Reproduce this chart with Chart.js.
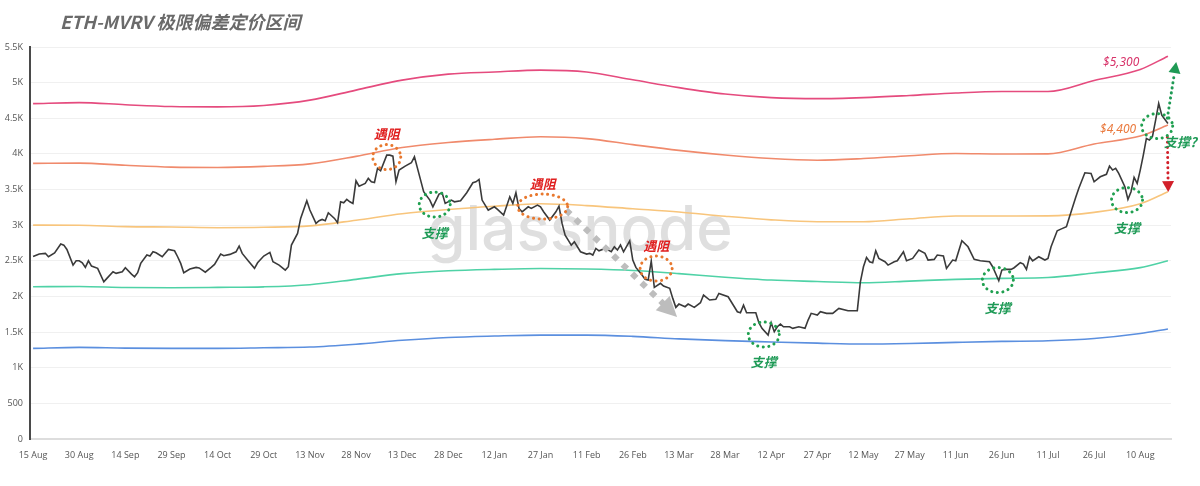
<!DOCTYPE html>
<html lang="zh">
<head>
  <meta charset="UTF-8">
  <title>ETH-MVRV 极限偏差定价区间</title>
  <script src="https://cdn.jsdelivr.net/npm/chart.js@4.4.1/dist/chart.umd.min.js"></script>
  <style>
    body { margin: 0; background: #fff; }
    canvas { display: block; }
  </style>
</head>
<body>
  <canvas id="mvrvChart" width="1200" height="486"></canvas>

  <script>
    // x axis = days since 15 Aug 2024, one tick every 15 days
    const xTickLabels = ['15 Aug', '30 Aug', '14 Sep', '29 Sep', '14 Oct', '29 Oct', '13 Nov', '28 Nov', '13 Dec',
      '28 Dec', '12 Jan', '27 Jan', '11 Feb', '26 Feb', '13 Mar', '28 Mar', '12 Apr', '27 Apr', '12 May',
      '27 May', '11 Jun', '26 Jun', '11 Jul', '26 Jul', '10 Aug'];

    // ETH price
    const priceDays = [
      0, 2, 4, 5, 7, 9, 10, 11, 13, 14,
      15, 16, 17, 18, 19, 21, 23, 24, 26, 27,
      29, 30, 32, 33, 34, 35, 37, 38, 39, 40,
      42, 44, 46, 47, 48, 49, 51, 53, 54, 56,
      58, 59, 61, 62, 64, 66, 67, 68, 70, 72,
      73, 75, 77, 78, 80, 82, 83, 84, 86, 87,
      89, 90, 92, 93, 94, 95, 96, 98, 99, 100,
      101, 102, 103, 104, 105, 106, 108, 109, 110, 111,
      112, 113, 115, 116, 117, 118, 119, 121, 123, 124,
      125, 127, 129, 130, 132, 133, 134, 136, 137, 139,
      141, 143, 144, 145, 146, 148, 150, 151, 153, 155,
      156, 157, 158, 159, 161, 162, 164, 165, 166, 168,
      170, 171, 172, 173, 174, 175, 176, 178, 180, 181,
      182, 183, 184, 186, 188, 189, 190, 191, 192, 194,
      195, 196, 198, 199, 200, 201, 202, 204, 205, 207,
      208, 209, 210, 212, 213, 215, 217, 218, 220, 222,
      223, 226, 228, 229, 230, 231, 232, 235, 236, 237,
      239, 240, 241, 242, 243, 244, 246, 247, 249, 251,
      252, 253, 255, 256, 258, 260, 262, 265, 267, 268,
      269, 270, 271, 272, 273, 274, 275, 277, 278, 280,
      281, 283, 284, 286, 288, 290, 291, 293, 294, 296,
      297, 299, 300, 302, 304, 306, 308, 311, 312, 314,
      315, 316, 318, 319, 321, 322, 323, 324, 325, 327,
      329, 330, 331, 333, 334, 336, 337, 339, 340, 342,
      344, 345, 347, 349, 350, 351, 352, 353, 355, 356,
      357, 358, 359, 360, 361, 362, 363, 364, 365, 366,
      367, 369
    ];
    const priceValues = [
      2560, 2595, 2605, 2557, 2610, 2735, 2720, 2660, 2440, 2500,
      2500, 2473, 2408, 2500, 2426, 2394, 2206, 2254, 2347, 2324,
      2347, 2403, 2314, 2276, 2333, 2464, 2581, 2567, 2627, 2613,
      2557, 2660, 2641, 2557, 2464, 2333, 2384, 2408, 2400, 2340,
      2412, 2450, 2595, 2571, 2590, 2627, 2707, 2604, 2497, 2394,
      2473, 2567, 2618, 2487, 2440, 2370, 2417, 2721, 2885, 3095,
      3342, 3212, 3025, 3062, 3081, 3062, 3174, 3095, 3034, 3328,
      3314, 3361, 3328, 3305, 3623, 3548, 3586, 3656, 3610, 3600,
      3797, 3763, 3983, 3983, 3969, 3609, 3773, 3829, 3876, 3960,
      3797, 3469, 3352, 3258, 3436, 3455, 3305, 3352, 3328, 3342,
      3455, 3595, 3609, 3642, 3352, 3212, 3258, 3221, 3142, 3398,
      3305, 3455, 3235, 3188, 3258, 3235, 3282, 3258, 3188, 3072,
      3188, 3268, 3025, 2861, 2791, 2721, 2767, 2627, 2595, 2604,
      2581, 2674, 2641, 2674, 2627, 2697, 2651, 2721, 2627, 2781,
      2511, 2408, 2300, 2240, 2230, 2497, 2128, 2184, 2146, 2114,
      1973, 1847, 1893, 1856, 1893, 1847, 1912, 2020, 1950, 1960,
      2043, 1996, 1856, 1786, 1772, 1879, 1772, 1772, 1631, 1552,
      1459, 1631, 1505, 1575, 1613, 1575, 1575, 1552, 1575, 1552,
      1669, 1763, 1739, 1786, 1763, 1763, 1833, 1800, 1800, 1800,
      2206, 2417, 2548, 2487, 2473, 2641, 2534, 2487, 2440, 2487,
      2500, 2627, 2500, 2534, 2651, 2604, 2511, 2520, 2581, 2567,
      2394, 2511, 2500, 2781, 2697, 2520, 2500, 2487, 2417, 2220,
      2370, 2380, 2380, 2403, 2473, 2454, 2380, 2557, 2500, 2557,
      2511, 2534, 2697, 2921, 2941, 2978, 3118, 3390, 3516, 3735,
      3726, 3609, 3679, 3713, 3829, 3773, 3797, 3726, 3539, 3362,
      3469, 3670, 3586, 3773, 3983, 4217, 4194, 4250, 4474, 4708,
      4544, 4428
    ];

    // MVRV pricing bands, sampled every 15 days
    const bandDays = [0, 15, 30, 45, 60, 75, 90, 105, 120, 135, 150, 165, 180, 195, 210, 225, 240, 255, 270, 285, 300, 315, 330, 345, 360, 369];
    const bandTop    = [4705, 4720, 4690, 4665, 4660, 4680, 4755, 4895, 5035, 5120, 5150, 5175, 5150, 5040, 4930, 4840, 4790, 4775, 4790, 4820, 4855, 4875, 4875, 5030, 5185, 5370];
    const bandHigh   = [3867, 3870, 3840, 3815, 3810, 3825, 3860, 3965, 4090, 4160, 4205, 4240, 4215, 4130, 4050, 3985, 3935, 3912, 3935, 3975, 4005, 3998, 4000, 4140, 4250, 4404];
    const bandMid    = [3001, 3000, 2980, 2975, 2965, 2970, 2990, 3070, 3160, 3220, 3265, 3300, 3275, 3230, 3185, 3125, 3075, 3048, 3048, 3090, 3128, 3128, 3130, 3180, 3300, 3469];
    const bandLow    = [2136, 2140, 2125, 2122, 2127, 2135, 2165, 2240, 2320, 2360, 2380, 2392, 2385, 2365, 2320, 2270, 2230, 2210, 2192, 2215, 2240, 2254, 2265, 2330, 2405, 2500];
    const bandBottom = [1272, 1285, 1275, 1272, 1272, 1280, 1290, 1330, 1385, 1425, 1445, 1458, 1458, 1440, 1405, 1380, 1362, 1345, 1332, 1340, 1356, 1370, 1378, 1410, 1480, 1543];

    // hand-drawn notes, placed in data units (day, price)
    const resistNotes  = [{ day: 115, value: 3955, rx: 14 }, { day: 165.7, value: 3261, rx: 25 }, { day: 202.6, value: 2391, rx: 16 }];
    const supportNotes = [{ day: 130.6, value: 3289, text: '支撑' }, { day: 237.6, value: 1466, text: '支撑' },
      { day: 313.7, value: 2230, text: '支撑' }, { day: 355.7, value: 3352, text: '支撑' }, { day: 365.5, value: 4390, text: '' }];
    const priceTags = [{ day: 353.8, value: 5288, text: '$5,300', color: '#d8346a' }, { day: 352.8, value: 4348, text: '$4,400', color: '#ea7a3e' }];
    const questionNote = { day: 373, value: 4165, text: '支撑?' };
    const arrows = [
      { from: [174, 3184], to: [209.4, 1711], kind: 'grey' },
      { from: [368.8, 4502], to: [371.7, 5288], kind: 'green' },
      { from: [368.8, 4236], to: [369.1, 3464], kind: 'red' }
    ];

    const toXY = (days, values) => days.map((d, i) => ({ x: d, y: values[i] }));

    function bandSet(values, color) {
      return {
        data: toXY(bandDays, values),
        borderColor: color,
        borderWidth: 1.6,
        pointRadius: 0,
        cubicInterpolationMode: 'monotone'
      };
    }

    function dottedEllipse(ctx, x, y, rx, ry, color) {
      ctx.save();
      ctx.strokeStyle = color;
      ctx.lineWidth = 3;
      ctx.lineCap = 'round';
      ctx.setLineDash([0.1, 5.5]);
      ctx.beginPath();
      ctx.ellipse(x, y, rx, ry, 0, 0, Math.PI * 2);
      ctx.stroke();
      ctx.restore();
    }

    function dottedArrow(ctx, x1, y1, x2, y2, style) {
      const ang = Math.atan2(y2 - y1, x2 - x1);
      const bx = x2 - Math.cos(ang) * style.head;
      const by = y2 - Math.sin(ang) * style.head;
      ctx.save();
      ctx.strokeStyle = style.color;
      ctx.fillStyle = style.color;
      ctx.lineWidth = style.width;
      ctx.lineCap = style.cap;
      ctx.setLineDash(style.dash);
      ctx.beginPath();
      ctx.moveTo(x1, y1);
      ctx.lineTo(bx, by);
      ctx.stroke();
      ctx.setLineDash([]);
      ctx.beginPath();
      ctx.moveTo(x2, y2);
      ctx.lineTo(bx + Math.sin(ang) * style.half, by - Math.cos(ang) * style.half);
      ctx.lineTo(bx - Math.sin(ang) * style.half, by + Math.cos(ang) * style.half);
      ctx.closePath();
      ctx.fill();
      ctx.restore();
    }

    const arrowStyles = {
      grey:  { color: '#bdbdbd', width: 6, cap: 'square', dash: [0.1, 13], head: 20, half: 10 },
      green: { color: '#1f9a55', width: 3, cap: 'round', dash: [0.1, 5], head: 11, half: 6 },
      red:   { color: '#d2202a', width: 3, cap: 'round', dash: [0.1, 5], head: 11, half: 6 }
    };

    const overlay = {
      id: 'overlay',
      beforeDatasetsDraw(chart) {
        const { ctx, chartArea } = chart;
        ctx.save();
        // watermark
        ctx.font = '500 62px Inter';
        ctx.fillStyle = '#dfdfdf';
        ctx.textAlign = 'center';
        ctx.textBaseline = 'middle';
        ctx.fillText('glassnode', chartArea.left + chartArea.width * 0.482, chartArea.top + chartArea.height * 0.47);
        // title
        ctx.font = 'italic bold 18px "Noto Sans CJK SC"';
        ctx.fillStyle = '#6a6a6a';
        ctx.textAlign = 'left';
        ctx.textBaseline = 'alphabetic';
        ctx.fillText('ETH-MVRV 极限偏差定价区间', 60, 29);
        ctx.restore();
      },
      afterDatasetsDraw(chart) {
        const { ctx } = chart;
        const sx = chart.scales.x, sy = chart.scales.y;
        const px = d => sx.getPixelForValue(d);
        const py = v => sy.getPixelForValue(v);

        arrows.forEach(a => dottedArrow(ctx, px(a.from[0]), py(a.from[1]), px(a.to[0]), py(a.to[1]), arrowStyles[a.kind]));

        ctx.save();
        ctx.textAlign = 'center';
        ctx.textBaseline = 'middle';
        ctx.font = 'italic bold 13px "Noto Sans CJK SC"';

        resistNotes.forEach(n => {
          dottedEllipse(ctx, px(n.day), py(n.value), n.rx, 12.5, '#e8782e');
          ctx.fillStyle = '#e02020';
          ctx.fillText('遇阻', px(n.day), py(n.value) - 23);
        });
        supportNotes.forEach(n => {
          dottedEllipse(ctx, px(n.day), py(n.value), 15.5, 12.5, '#20a050');
          ctx.fillStyle = '#1e9a56';
          if (n.text) ctx.fillText(n.text, px(n.day), py(n.value) + 28);
        });
        ctx.fillStyle = '#1e9a56';
        ctx.fillText(questionNote.text, px(questionNote.day), py(questionNote.value));

        ctx.font = 'italic 12px "Noto Sans"';
        priceTags.forEach(t => {
          ctx.fillStyle = t.color;
          ctx.fillText(t.text, px(t.day), py(t.value));
        });
        ctx.restore();
      }
    };

    const tickFont = { family: 'Open Sans', size: 9 };

    const mvrvChart = new Chart(document.getElementById('mvrvChart'), {
      type: 'line',
      data: {
        datasets: [
          {
            data: toXY(priceDays, priceValues),
            borderColor: '#3a3a3a',
            borderWidth: 1.6,
            pointRadius: 0,
            tension: 0
          },
          bandSet(bandTop, '#e54b7e'),
          bandSet(bandHigh, '#f08a6c'),
          bandSet(bandMid, '#f8c57c'),
          bandSet(bandLow, '#4fd2a6'),
          bandSet(bandBottom, '#5b8fdf')
        ]
      },
      options: {
        responsive: false,
        animation: false,
        layout: { padding: { top: 47, right: 29, left: 0, bottom: 0 } },
        plugins: {
          legend: { display: false },
          tooltip: { enabled: false }
        },
        scales: {
          x: {
            type: 'linear',
            min: -1,
            max: 370,
            afterBuildTicks: axis => { axis.ticks = xTickLabels.map((_, i) => ({ value: i * 15 })); },
            afterFit: axis => { axis.height = 47; },
            grid: { display: false },
            border: { color: '#dddddd', width: 2 },
            ticks: {
              autoSkip: false,
              maxRotation: 0,
              padding: 3,
              color: '#555',
              font: tickFont,
              callback: (value, index) => xTickLabels[index]
            }
          },
          y: {
            min: 0,
            max: 5500,
            afterFit: axis => { axis.width = 30; },
            grid: { color: '#f0f0f0', drawTicks: false },
            border: { color: '#4a4a4a', width: 2 },
            ticks: {
              stepSize: 500,
              padding: 7,
              color: '#555',
              font: tickFont,
              callback: v => v >= 1000 ? (v / 1000) + 'K' : v
            }
          }
        }
      },
      plugins: [overlay]
    });
  </script>
</body>
</html>
